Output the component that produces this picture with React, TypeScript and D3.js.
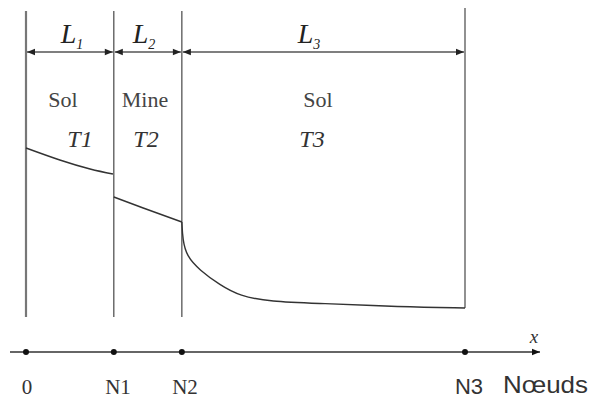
import React from 'react';
import * as d3 from 'd3';

// Nodes along x (position in % of total length)
const nodeLabels = ['0', 'N1', 'N2', 'N3'];
const nodePos = [0, 20, 35.5, 100];

// Zones between the nodes
const zoneNames = ['Sol', 'Mine', 'Sol'];
const zoneTemps = ['T1', 'T2', 'T3'];
const lengthSubs = ['1', '2', '3'];

// Temperature profile, one piece per zone
const seg1X = [0, 7.7, 14.6, 19.8];
const seg1T = [86, 80, 75.5, 73];
const seg2X = [20, 26.7, 35.5];
const seg2T = [61.5, 56, 49];
const seg3X = [35.5, 35.7, 36.6, 39.5, 44.2, 48.7, 55.6, 67, 85.2, 100];
const seg3T = [49, 40, 32, 25, 17.5, 12, 9.2, 8.3, 6.6, 6];

const W = 591;
const H = 400;

const App = () => {
    const x = d3.scaleLinear().domain([0, 100]).range([26, 465]);
    const y = d3.scaleLinear().domain([0, 100]).range([320, 120]);

    const lineFor = (curve: d3.CurveFactory) => d3.line<[number, number]>()
        .x((d) => x(d[0]))
        .y((d) => y(d[1]))
        .curve(curve);

    const segs = [
        { pts: seg1X.map((v, i) => [v, seg1T[i]] as [number, number]), curve: d3.curveNatural },
        { pts: seg2X.map((v, i) => [v, seg2T[i]] as [number, number]), curve: d3.curveNatural },
        { pts: seg3X.map((v, i) => [v, seg3T[i]] as [number, number]), curve: d3.curveBasis },
    ];

    const arrowY = 52;
    const axisY = 352;
    const serif = '"Liberation Serif", "Times New Roman", serif';
    const sans = '"Liberation Sans", Arial, sans-serif';

    // label centres (L, zone name, temperature)
    const lX = [72, 144, 309];
    const nameX = [63, 145, 318];
    const tempX = [80, 146, 312];

    return (
        <svg width={W} height={H} style={{ position: 'absolute', left: 0, top: 0, background: '#fff' }}>
            <defs>
                <marker id="ah" viewBox="0 0 10 10" refX="10" refY="5" markerWidth="12" markerHeight="8"
                    markerUnits="userSpaceOnUse" orient="auto-start-reverse">
                    <path d="M0,1 L10,5 L0,9 Z" fill="#222" />
                </marker>
                <marker id="axh" viewBox="0 0 10 10" refX="10" refY="5" markerWidth="13" markerHeight="8"
                    markerUnits="userSpaceOnUse" orient="auto">
                    <path d="M0,1 L10,5 L0,9 Z" fill="#111" />
                </marker>
            </defs>

            {/* vertical boundaries */}
            {nodePos.map((p, i) => (
                <line key={'v' + i} x1={x(p)} x2={x(p)}
                    y1={i === 3 ? 8 : 11}
                    y2={i === 3 ? y(seg3T[seg3T.length - 1]) : 317}
                    stroke={i === 0 ? '#777' : '#555'} strokeWidth={i === 0 ? 2.2 : 1.3} />
            ))}

            {/* length arrows */}
            {nodePos.slice(0, 3).map((p, i) => (
                <line key={'a' + i} x1={x(p) + 1} x2={x(nodePos[i + 1]) - 1} y1={arrowY} y2={arrowY}
                    stroke="#555" strokeWidth={1.6} markerStart="url(#ah)" markerEnd="url(#ah)" />
            ))}
            {lengthSubs.map((s, i) => (
                <text key={'l' + i} x={lX[i]} y={43} fontFamily={serif} fontStyle="italic"
                    fontSize={28} fill="#222" textAnchor="middle">
                    L<tspan fontSize={14} dy={6}>{s}</tspan>
                </text>
            ))}

            {/* zone names and temperatures */}
            {zoneNames.map((n, i) => (
                <text key={'z' + i} x={nameX[i]} y={107} fontFamily={serif} fontSize={22}
                    fill="#444" textAnchor="middle">{n}</text>
            ))}
            {zoneTemps.map((t, i) => (
                <text key={'t' + i} x={tempX[i]} y={147} fontFamily={serif} fontStyle="italic" fontSize={24}
                    fill="#333" textAnchor="middle">{t}</text>
            ))}

            {/* temperature profile */}
            {segs.map((s, i) => (
                <path key={'s' + i} d={lineFor(s.curve)(s.pts) || ''} fill="none" stroke="#333" strokeWidth={1.4} />
            ))}

            {/* node axis */}
            <line x1={10} x2={540} y1={axisY} y2={axisY} stroke="#333" strokeWidth={1.3} markerEnd="url(#axh)" />
            <text x={534} y={343} fontFamily={serif} fontStyle="italic" fontSize={19} fill="#333"
                textAnchor="middle">x</text>
            {nodePos.map((p, i) => (
                <circle key={'d' + i} cx={x(p)} cy={axisY} r={3} fill="#111" />
            ))}
            {nodeLabels.map((l, i) => (
                <text key={'n' + i} x={[27, 118, 185, 469][i]} y={394}
                    fontFamily={i === 3 ? sans : serif} fontSize={i === 3 ? 22 : 21}
                    fill="#333" textAnchor="middle">{l}</text>
            ))}
            <text x={503} y={393} fontFamily={sans} fontSize={24} textLength={85}
                lengthAdjust="spacingAndGlyphs" fill="#333">Nœuds</text>
        </svg>
    );
};

export default App;
